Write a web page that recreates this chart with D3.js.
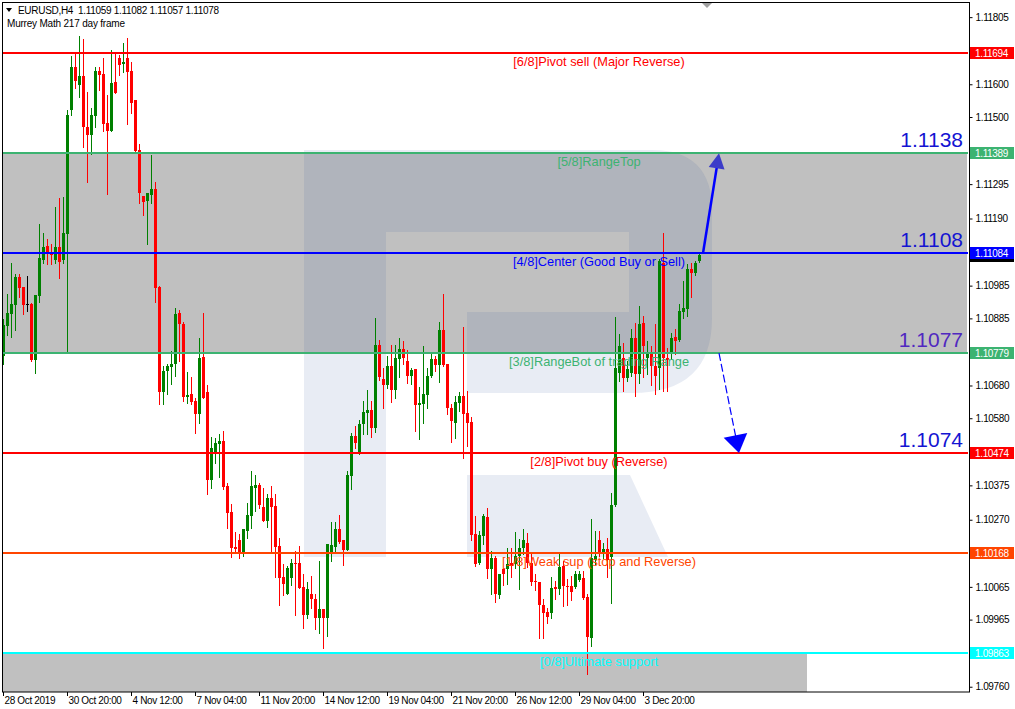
<!DOCTYPE html>
<html>
<head>
<meta charset="utf-8">
<script src="https://cdn.jsdelivr.net/npm/d3@7"></script>
<style>
  body { margin: 0; background: #fff; }
  svg { display: block; font-family: "Liberation Sans", Arial, sans-serif; }
  .tick text { font-size: 10px; letter-spacing: -0.35px; fill: #000; }
</style>
</head>
<body>
<div id="chart"></div>
<script>
// EURUSD H4 bars (oldest first)
var opens = [1.10771,1.10863,1.10899,1.10927,1.11010,1.10982,1.10930,1.10930,1.10758,1.10952,
  1.11064,1.11107,1.11089,1.11064,1.11104,1.11064,1.11144,1.11520,1.11652,1.11599,
  1.11624,1.11471,1.11444,1.11502,1.11642,1.11630,1.11483,1.11456,1.11608,1.11679,
  1.11661,1.11679,1.11639,1.11553,1.11400,1.11260,1.11242,1.11263,1.11281,1.10982,
  1.10661,1.10725,1.10738,1.10747,1.10902,1.10869,1.10646,1.10655,1.10633,1.10594,
  1.10768,1.10661,1.10392,1.10478,1.10502,1.10511,1.10373,1.10294,1.10187,1.10209,
  1.10169,1.10236,1.10282,1.10367,1.10376,1.10310,1.10267,1.10337,1.10313,1.10190,
  1.10096,1.10044,1.10092,1.10139,1.10139,1.10065,1.09980,1.10044,1.10028,1.09970,
  1.09998,1.09970,1.10166,1.10187,1.10242,1.10209,1.10178,1.10404,1.10527,1.10475,
  1.10563,1.10597,1.10606,1.10551,1.10805,1.10701,1.10683,1.10741,1.10667,1.10762,
  1.10792,1.10756,1.10710,1.10731,1.10621,1.10624,1.10652,1.10710,1.10762,1.10744,
  1.10850,1.10747,1.10612,1.10566,1.10627,1.10649,1.10597,1.10569,1.10227,1.10139,
  1.10221,1.10279,1.10120,1.10154,1.10041,1.10120,1.10120,1.10139,1.10135,1.10160,
  1.10184,1.10200,1.10139,1.10083,1.10080,1.10010,1.09989,1.09986,1.10065,1.10059,
  1.10129,1.10068,1.10068,1.10065,1.10086,1.10092,1.10034,1.09909,1.10148,1.10209,
  1.10169,1.10181,1.10157,1.10316,1.10719,1.10765,1.10704,1.10719,1.10826,1.10716,
  1.10872,1.10765,1.10777,1.10741,1.10734,1.11055,1.10765,1.10777,1.10829,1.10820,
  1.10905,1.10914,1.11037,1.11025,1.11059];

var highs = [1.10884,1.10958,1.11055,1.11022,1.11022,1.10982,1.11013,1.10933,1.10955,1.11174,
  1.11147,1.11128,1.11113,1.11224,1.11254,1.11257,1.11520,1.11685,1.11691,1.11746,
  1.11737,1.11575,1.11529,1.11654,1.11654,1.11679,1.11566,1.11706,1.11691,1.11688,
  1.11725,1.11740,1.11667,1.11553,1.11419,1.11260,1.11269,1.11385,1.11303,1.10985,
  1.10741,1.10747,1.10786,1.10918,1.10911,1.10875,1.10722,1.10707,1.10643,1.10826,
  1.10902,1.10683,1.10523,1.10520,1.10533,1.10542,1.10383,1.10319,1.10233,1.10227,
  1.10242,1.10322,1.10420,1.10408,1.10383,1.10367,1.10349,1.10373,1.10349,1.10215,
  1.10135,1.10129,1.10151,1.10175,1.10190,1.10105,1.10080,1.10099,1.10044,1.10145,
  1.09998,1.10196,1.10264,1.10264,1.10285,1.10209,1.10420,1.10536,1.10557,1.10575,
  1.10633,1.10667,1.10633,1.10887,1.10820,1.10734,1.10771,1.10805,1.10805,1.10826,
  1.10817,1.10789,1.10734,1.10731,1.10676,1.10801,1.10734,1.10783,1.10771,1.10875,
  1.10958,1.10747,1.10624,1.10649,1.10661,1.10860,1.10664,1.10584,1.10282,1.10236,
  1.10288,1.10306,1.10175,1.10160,1.10105,1.10120,1.10184,1.10184,1.10233,1.10212,
  1.10242,1.10230,1.10166,1.10105,1.10080,1.10028,1.10001,1.10096,1.10083,1.10169,
  1.10145,1.10089,1.10099,1.10114,1.10114,1.10114,1.10044,1.10273,1.10236,1.10236,
  1.10200,1.10215,1.10352,1.10890,1.10838,1.10811,1.10756,1.10853,1.10872,1.10924,
  1.10893,1.10817,1.10801,1.10869,1.11067,1.11147,1.10795,1.10841,1.10853,1.10930,
  1.11000,1.11052,1.11055,1.11061,1.11082];

var lows = [1.10747,1.10835,1.10829,1.10850,1.10949,1.10899,1.10908,1.10756,1.10719,1.10936,
  1.11055,1.11052,1.11052,1.11055,1.11007,1.11055,1.10783,1.11505,1.11590,1.11560,
  1.11407,1.11300,1.11388,1.11468,1.11581,1.11456,1.11266,1.11456,1.11572,1.11627,
  1.11636,1.11480,1.11511,1.11391,1.11236,1.11202,1.11113,1.11236,1.10936,1.10624,
  1.10624,1.10655,1.10686,1.10710,1.10756,1.10633,1.10627,1.10624,1.10536,1.10566,
  1.10643,1.10349,1.10367,1.10444,1.10401,1.10364,1.10245,1.10157,1.10169,1.10154,
  1.10160,1.10215,1.10245,1.10297,1.10306,1.10267,1.10248,1.10172,1.10096,1.10010,
  1.10041,1.10044,1.10071,1.09980,1.10062,1.09940,1.09970,1.10001,1.09937,1.09925,
  1.09879,1.09916,1.10145,1.10175,1.10200,1.10132,1.10178,1.10364,1.10490,1.10472,
  1.10533,1.10533,1.10523,1.10539,1.10698,1.10612,1.10673,1.10630,1.10643,1.10707,
  1.10747,1.10689,1.10686,1.10542,1.10517,1.10566,1.10612,1.10707,1.10725,1.10692,
  1.10741,1.10594,1.10508,1.10520,1.10603,1.10459,1.10496,1.10209,1.10129,1.10135,
  1.10196,1.10092,1.10044,1.10019,1.10031,1.10071,1.10074,1.10096,1.10123,1.10059,
  1.10166,1.10126,1.10071,1.10056,1.09909,1.09909,1.09955,1.09970,1.10028,1.10044,
  1.10007,1.10010,1.10025,1.10062,1.10083,1.10028,1.09799,1.09885,1.10135,1.10160,
  1.10154,1.10096,1.10016,1.10313,1.10695,1.10664,1.10695,1.10710,1.10649,1.10689,
  1.10707,1.10716,1.10680,1.10655,1.10670,1.10664,1.10664,1.10762,1.10777,1.10817,
  1.10887,1.10893,1.10949,1.11016,1.11057];

var closes = [1.10866,1.10902,1.10930,1.11010,1.10979,1.10927,1.10930,1.10758,1.10955,1.11070,
  1.11104,1.11086,1.11080,1.11104,1.11058,1.11147,1.11505,1.11652,1.11611,1.11624,
  1.11468,1.11444,1.11505,1.11642,1.11627,1.11480,1.11456,1.11605,1.11572,1.11658,
  1.11667,1.11636,1.11544,1.11397,1.11269,1.11239,1.11269,1.11281,1.10979,1.10661,
  1.10725,1.10741,1.10747,1.10899,1.10869,1.10646,1.10652,1.10630,1.10594,1.10765,
  1.10643,1.10392,1.10490,1.10505,1.10511,1.10370,1.10291,1.10184,1.10181,1.10169,
  1.10242,1.10285,1.10373,1.10376,1.10316,1.10267,1.10337,1.10310,1.10187,1.10092,
  1.10074,1.10123,1.10139,1.10135,1.10062,1.09980,1.10059,1.10028,1.09970,1.09998,
  1.09970,1.10196,1.10193,1.10242,1.10203,1.10178,1.10408,1.10527,1.10505,1.10563,
  1.10600,1.10606,1.10551,1.10805,1.10707,1.10683,1.10741,1.10667,1.10765,1.10792,
  1.10765,1.10710,1.10728,1.10621,1.10627,1.10655,1.10710,1.10762,1.10744,1.10850,
  1.10744,1.10612,1.10572,1.10630,1.10649,1.10594,1.10566,1.10224,1.10135,1.10224,
  1.10282,1.10120,1.10154,1.10044,1.10105,1.10105,1.10135,1.10129,1.10160,1.10184,
  1.10209,1.10139,1.10080,1.10080,1.10010,1.09986,1.09974,1.10062,1.10059,1.10126,
  1.10068,1.10065,1.10050,1.10105,1.10105,1.10031,1.09912,1.10154,1.10160,1.10166,
  1.10181,1.10148,1.10316,1.10734,1.10801,1.10704,1.10731,1.10826,1.10716,1.10869,
  1.10801,1.10780,1.10741,1.10710,1.11061,1.10765,1.10758,1.10826,1.10817,1.10908,
  1.10918,1.11037,1.11025,1.11055,1.11078];

var dateBars = [0, 16, 32, 48, 64, 80, 96, 112, 128, 144, 160];
var dateLabels = ["28 Oct 2019", "30 Oct 20:00", "4 Nov 12:00", "7 Nov 04:00", "11 Nov 20:00",
  "14 Nov 12:00", "19 Nov 04:00", "21 Nov 20:00", "26 Nov 12:00", "29 Nov 04:00", "3 Dec 20:00"];

var priceTicks = [1.11805, 1.11600, 1.11500, 1.11295, 1.11190, 1.10985, 1.10885,
  1.10680, 1.10580, 1.10375, 1.10270, 1.10065, 1.09965, 1.09760];

// Murrey Math levels, 6/8 down to 0/8
var levelValues = [1.11694, 1.11389, 1.11084, 1.10779, 1.10474, 1.10168, 1.09863];
var levelNames = ["[6/8]Pivot sell (Major Reverse)", "[5/8]RangeTop", "[4/8]Center (Good Buy or Sell)",
  "[3/8]RangeBot of trading Range", "[2/8]Pivot buy (Reverse)", "[1/8]Weak sup (stop and Reverse)",
  "[0/8]Ultimate support"];

// hand drawn forecast: bar index and price of start and tip
var upArrow = [[175, 1.11084], [179, 1.11389]];
var downArrow = [[179, 1.10779], [184, 1.10474]];
var targetTexts = ["1.1138", "1.1108", "1.1077", "1.1074"];
var targetLevels = [1.11389, 1.11084, 1.10779, 1.10474];

var levelColors = ["#ff0000", "#3cb371", "#0000ff", "#3cb371", "#ff0000", "#ff4500", "#00ffff"];
var targetColors = ["#1414d2", "#1414d2", "#5028c0", "#1414d2"];

var width = 1015, height = 709;
var plot = {left: 3, top: 3, right: 968, bottom: 692};

var x = d3.scaleLinear().domain([0, 174]).range([3, 699]);
var y = d3.scaleLinear().domain([1.097439, 1.118421]).range([692, 5]);

var svg = d3.select("#chart").append("svg")
    .attr("width", width)
    .attr("height", height);

svg.append("rect").attr("width", width).attr("height", height).attr("fill", "#fff");

svg.append("clipPath").attr("id", "plotclip")
  .append("rect")
    .attr("x", plot.left).attr("y", plot.top)
    .attr("width", plot.right - plot.left).attr("height", plot.bottom - plot.top);

var area = svg.append("g").attr("clip-path", "url(#plotclip)");

// trading range band (5/8 .. 3/8) and bottom band under 0/8
area.append("rect")
    .attr("x", plot.left)
    .attr("y", Math.round(y(levelValues[1])))
    .attr("width", plot.right - plot.left - 1)
    .attr("height", Math.round(y(levelValues[3])) - Math.round(y(levelValues[1])))
    .attr("fill", "#c0c0c0");

area.append("rect")
    .attr("x", plot.left)
    .attr("y", Math.round(y(levelValues[6])))
    .attr("width", x(201) - plot.left)
    .attr("height", plot.bottom - Math.round(y(levelValues[6])))
    .attr("fill", "#c0c0c0");

// watermark logo
area.append("path")
    .attr("d", "M304,150 H652 Q712,150 712,210 V318 Q712,393 632,393 H467 V312 H629 V232 H386 V557 H304 Z" +
               " M467,475 H630 L668,557 H467 Z")
    .attr("fill", "rgb(45,82,155)")
    .attr("fill-opacity", 0.11);

// candles
var bars = d3.range(opens.length).map(function(i) {
  return {i: i, o: opens[i], h: highs[i], l: lows[i], c: closes[i]};
});

function candleColor(d) {
  if (d.c > d.o) return "#008000";
  if (d.c < d.o) return "#ff0000";
  return "#000000";
}

var candle = area.append("g").attr("shape-rendering", "crispEdges")
  .selectAll("g")
  .data(bars)
  .enter().append("g");

candle.append("rect")
    .attr("x", function(d) { return Math.round(x(d.i)); })
    .attr("y", function(d) { return Math.round(y(d.h)); })
    .attr("width", 1)
    .attr("height", function(d) { return Math.max(1, Math.round(y(d.l)) - Math.round(y(d.h)) + 1); })
    .attr("fill", candleColor);

candle.append("rect")
    .attr("x", function(d) { return Math.round(x(d.i)) - 1; })
    .attr("y", function(d) { return Math.round(y(Math.max(d.o, d.c))); })
    .attr("width", 3)
    .attr("height", function(d) {
      return Math.max(1, Math.round(y(Math.min(d.o, d.c))) - Math.round(y(Math.max(d.o, d.c))));
    })
    .attr("fill", candleColor);

// level lines
area.selectAll(".level")
  .data(levelValues)
  .enter().append("line")
    .attr("class", "level")
    .attr("x1", plot.left).attr("x2", plot.right)
    .attr("y1", function(d) { return Math.round(y(d)); })
    .attr("y2", function(d) { return Math.round(y(d)); })
    .attr("stroke", function(d, i) { return levelColors[i]; })
    .attr("stroke-width", 2);

area.selectAll(".levelname")
  .data(levelNames)
  .enter().append("text")
    .attr("class", "levelname")
    .attr("x", 599)
    .attr("y", function(d, i) { return Math.round(y(levelValues[i])) + 13; })
    .attr("text-anchor", "middle")
    .attr("font-size", "12.8px")
    .attr("fill", function(d, i) { return levelColors[i]; })
    .text(function(d) { return d; });

// forecast arrows
function arrow(pts, headLen, headHalf) {
  var x0 = x(pts[0][0]), y0 = y(pts[0][1]), x1 = x(pts[1][0]), y1 = y(pts[1][1]);
  var dx = x1 - x0, dy = y1 - y0, len = Math.sqrt(dx * dx + dy * dy);
  var ux = dx / len, uy = dy / len, nx = -uy, ny = ux;
  var bx = x1 - ux * headLen, by = y1 - uy * headLen;
  return {
    line: [x0, y0, bx + ux * 2, by + uy * 2],
    head: [[x1, y1], [bx + nx * headHalf, by + ny * headHalf], [bx - nx * headHalf, by - ny * headHalf]]
  };
}

var up = arrow(upArrow, 15, 8);
area.append("line")
    .attr("x1", up.line[0]).attr("y1", up.line[1])
    .attr("x2", up.line[2]).attr("y2", up.line[3])
    .attr("stroke", "#0000ff").attr("stroke-width", 2.5);
area.append("path")
    .attr("d", d3.line()(up.head) + "Z")
    .attr("fill", "#3c3cc8");

var down = arrow(downArrow, 18, 12);
area.append("line")
    .attr("x1", down.line[0]).attr("y1", down.line[1])
    .attr("x2", down.line[2]).attr("y2", down.line[3])
    .attr("stroke", "#0000ff").attr("stroke-width", 1.2)
    .attr("stroke-dasharray", "8,3");
area.append("path")
    .attr("d", d3.line()(down.head) + "Z")
    .attr("fill", "#0000ff");

area.selectAll(".target")
  .data(targetTexts)
  .enter().append("text")
    .attr("class", "target")
    .attr("x", 963)
    .attr("y", function(d, i) { return Math.round(y(targetLevels[i])) - 6; })
    .attr("text-anchor", "end")
    .attr("font-size", "21px")
    .attr("fill", function(d, i) { return targetColors[i]; })
    .text(function(d) { return d; });

// frame
svg.append("rect")
    .attr("x", 2.5).attr("y", 2.5)
    .attr("width", 967).attr("height", 689.5)
    .attr("fill", "none").attr("stroke", "#000");

svg.append("path")
    .attr("d", "M702,3 H712 L707,8 Z")
    .attr("fill", "#a0a0a0");

// axes
var yAxis = d3.axisRight(y).tickValues(priceTicks).tickSize(3).tickSizeOuter(0)
    .tickFormat(d3.format(".5f"));
var yg = svg.append("g")
    .attr("transform", "translate(969.5,0)")
    .call(yAxis);
yg.select(".domain").remove();
yg.selectAll("text").attr("x", 6);

var xAxis = d3.axisBottom(x).tickValues(dateBars).tickSize(4).tickSizeOuter(0)
    .tickFormat(function(d, i) { return dateLabels[i]; });
var xg = svg.append("g")
    .attr("transform", "translate(0,692)")
    .call(xAxis);
xg.select(".domain").remove();
xg.selectAll("text").attr("text-anchor", "start").attr("x", 1).attr("y", 5);

// price boxes on the axis
var last = bars[bars.length - 1];
svg.append("rect")
    .attr("x", 970).attr("y", Math.round(y(last.c)) - 5)
    .attr("width", 44).attr("height", 12)
    .attr("fill", "#000");

var boxes = svg.selectAll(".pbox")
  .data(levelValues)
  .enter().append("g")
    .attr("class", "pbox")
    .attr("transform", function(d) { return "translate(970," + (Math.round(y(d)) - 6) + ")"; });
boxes.append("rect")
    .attr("width", 44).attr("height", 12)
    .attr("fill", function(d, i) { return levelColors[i]; });
boxes.append("text")
    .attr("x", 5).attr("y", 10)
    .attr("font-size", "10px")
    .attr("letter-spacing", "-0.35px")
    .attr("fill", "#fff")
    .text(function(d) { return d3.format(".5f")(d); });

// header
svg.append("path").attr("d", "M6,8 H12 L9,12 Z").attr("fill", "#000");
svg.append("text")
    .attr("x", 18).attr("y", 14)
    .attr("font-size", "10px")
    .attr("letter-spacing", "-0.3px")
    .style("white-space", "pre")
    .text("EURUSD,H4  " + [last.o, last.h, last.l, last.c].map(d3.format(".5f")).join(" "));
svg.append("text")
    .attr("x", 7).attr("y", 27)
    .attr("font-size", "10px")
    .attr("letter-spacing", "-0.2px")
    .text("Murrey Math 217 day frame");
</script>
</body>
</html>
